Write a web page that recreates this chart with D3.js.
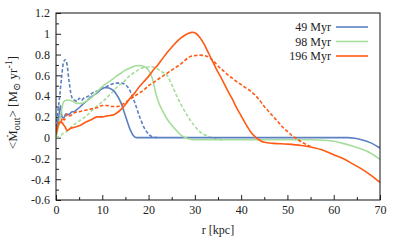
<!DOCTYPE html>
<html>
<head>
<meta charset="utf-8">
<script src="https://cdn.jsdelivr.net/npm/d3@7"></script>
<style>
  html, body { margin: 0; padding: 0; background: #fff; }
  svg { display: block; }
  svg text { font-family: "Liberation Serif", "Times New Roman", "DejaVu Serif", serif !important; fill: #222; }
</style>
</head>
<body>
<svg id="chart" width="399" height="240"></svg>
<script>
// radius [kpc] and mean outflow rate for each snapshot; solid = one run, dashed = the other
const r49s = [0, 0.3, 0.65, 1, 1.3, 1.7, 2.1, 2.4, 3, 3.5, 3.9, 4.5, 5.3, 6, 6.8, 7.5, 8.2, 8.9, 9.6, 10.3, 11.1, 11.8, 12.5, 13, 14, 15, 16, 16.7, 17.3, 20, 30, 40, 50, 60, 63, 64.5, 66, 68, 70];
const v49s = [0.05, 0.12, 0.22, 0.31, 0.2, 0.19, 0.23, 0.22, 0.23, 0.25, 0.25, 0.27, 0.3, 0.33, 0.36, 0.39, 0.41, 0.43, 0.46, 0.48, 0.48, 0.47, 0.45, 0.42, 0.34, 0.21, 0.08, 0.02, 0, 0, 0, 0, 0, 0, 0, -0.005, -0.02, -0.05, -0.1];

const r49d = [0, 0.4, 0.8, 1.2, 1.6, 2, 2.4, 2.8, 3.2, 3.5, 4, 4.6, 5, 5.5, 6, 7, 8.2, 9, 10.4, 11.8, 13, 14, 15, 16, 17, 18, 19, 20, 21, 22];
const v49d = [0.1, 0.25, 0.4, 0.58, 0.72, 0.75, 0.7, 0.55, 0.43, 0.38, 0.36, 0.35, 0.38, 0.36, 0.38, 0.4, 0.44, 0.45, 0.48, 0.51, 0.525, 0.525, 0.51, 0.45, 0.34, 0.21, 0.1, 0.035, 0.005, 0];

const r98s = [0, 0.5, 1, 1.7, 2.3, 3, 3.6, 4.6, 5.5, 6.5, 7.5, 8.2, 9.5, 10.5, 11.8, 13, 14, 15, 16, 17, 18, 19, 20, 20.5, 21, 21.5, 22, 23, 24, 25, 26, 27, 28, 29, 30, 40, 50, 55, 58, 60, 62, 64, 66, 68, 70];
const v98s = [0, 0.1, 0.22, 0.35, 0.36, 0.36, 0.35, 0.33, 0.33, 0.35, 0.38, 0.41, 0.47, 0.51, 0.55, 0.59, 0.62, 0.65, 0.67, 0.69, 0.695, 0.685, 0.65, 0.61, 0.54, 0.44, 0.36, 0.26, 0.18, 0.12, 0.07, 0.025, 0, -0.015, -0.02, -0.02, -0.02, -0.02, -0.025, -0.035, -0.055, -0.08, -0.11, -0.15, -0.21];

const r98d = [0, 0.5, 1, 1.5, 2, 2.4, 3, 4, 5, 6, 6.8, 8, 9, 10.4, 12, 13, 14.7, 16, 17, 18, 19, 20, 21, 22, 23, 24, 25, 26, 27, 28, 29, 30, 31, 32, 33, 34, 35, 36];
const v98d = [0, 0.01, 0.02, 0.04, 0.05, 0.06, 0.09, 0.13, 0.16, 0.19, 0.22, 0.27, 0.31, 0.36, 0.43, 0.48, 0.54, 0.6, 0.63, 0.66, 0.675, 0.68, 0.68, 0.66, 0.63, 0.6, 0.51, 0.41, 0.32, 0.24, 0.17, 0.11, 0.06, 0.03, 0.01, -0.005, -0.015, -0.02];

const r196s = [0, 0.3, 0.6, 1, 1.4, 1.7, 2, 2.4, 2.8, 3.2, 4, 5.3, 6.5, 7.5, 8.9, 10, 11.1, 12.5, 13.2, 14, 15, 16, 17, 18, 19, 20, 21, 22, 23, 24, 25, 26, 27, 28, 29, 29.5, 30, 31, 32, 33, 34, 35, 36, 37, 38, 39, 40, 41, 42, 43, 44, 45, 47, 50, 53, 55, 58, 60, 62, 64, 66, 68, 70];
const v196s = [0.03, 0.09, 0.13, 0.15, 0.14, 0.12, 0.1, 0.07, 0.08, 0.09, 0.1, 0.12, 0.15, 0.17, 0.2, 0.2, 0.21, 0.22, 0.24, 0.27, 0.32, 0.38, 0.43, 0.49, 0.54, 0.59, 0.65, 0.7, 0.76, 0.82, 0.87, 0.92, 0.96, 0.99, 1.01, 1.015, 1.01, 0.97, 0.9, 0.81, 0.72, 0.63, 0.55, 0.46, 0.38, 0.29, 0.21, 0.13, 0.06, 0.01, -0.025, -0.045, -0.055, -0.062, -0.075, -0.09, -0.125, -0.165, -0.2, -0.25, -0.3, -0.36, -0.43];

const r196d = [0, 0.3, 0.7, 1, 1.4, 1.8, 2.4, 3, 4, 5, 6, 7, 8, 9, 10, 11, 12, 13, 14, 15, 16, 17, 18, 19, 20, 21, 22, 23, 24, 25, 26, 27, 28, 29, 30, 31, 32, 33, 34, 35, 36, 37, 38, 39, 40, 41, 42, 43, 44, 45, 46, 47, 48, 49, 50, 51, 52, 53, 54, 55];
const v196d = [0.08, 0.12, 0.15, 0.14, 0.19, 0.17, 0.23, 0.21, 0.24, 0.25, 0.26, 0.27, 0.28, 0.29, 0.31, 0.31, 0.3, 0.3, 0.31, 0.34, 0.37, 0.4, 0.43, 0.46, 0.5, 0.53, 0.56, 0.59, 0.62, 0.65, 0.68, 0.71, 0.75, 0.78, 0.79, 0.795, 0.79, 0.775, 0.74, 0.69, 0.65, 0.61, 0.575, 0.54, 0.51, 0.48, 0.45, 0.41, 0.36, 0.3, 0.25, 0.2, 0.15, 0.1, 0.06, 0.02, -0.01, -0.04, -0.065, -0.085];

const seriesNames = ["49 Myr", "98 Myr", "196 Myr"];
const seriesColors = ["#5b80c2", "#a5dd9b", "#ff5a14"];
const xTicks = [0, 10, 20, 30, 40, 50, 60, 70];
const yTicks = [-0.6, -0.4, -0.2, 0, 0.2, 0.4, 0.6, 0.8, 1, 1.2];

const W = 399, H = 240;
const m = {top: 13, right: 19, bottom: 40, left: 56};
const iw = W - m.left - m.right, ih = H - m.top - m.bottom;
const FS = 12;

const svg = d3.select("#chart");
const g = svg.append("g").attr("transform", `translate(${m.left},${m.top})`);

const x = d3.scaleLinear().domain([0, 70]).range([0, iw]);
const y = d3.scaleLinear().domain([-0.6, 1.2]).range([ih, 0]);

g.append("clipPath").attr("id", "clip")
  .append("rect").attr("width", iw).attr("height", ih);

// minor ticks
g.append("g").attr("transform", `translate(0,${ih})`)
  .call(d3.axisBottom(x).tickValues(d3.range(5, 70, 10)).tickSize(-3).tickFormat(""))
  .call(a => a.select(".domain").remove());
g.append("g")
  .call(d3.axisLeft(y).tickValues(d3.range(-5, 12, 2).map(d => d / 10)).tickSize(-3).tickFormat(""))
  .call(a => a.select(".domain").remove());

// major ticks
const xAxis = g.append("g").attr("transform", `translate(0,${ih})`)
  .call(d3.axisBottom(x).tickValues(xTicks).tickSize(-5).tickPadding(5).tickFormat(d3.format("d")));
const yAxis = g.append("g")
  .call(d3.axisLeft(y).tickValues(yTicks).tickSize(-5).tickPadding(6).tickFormat(d => String(+d.toFixed(1))));
[xAxis, yAxis].forEach(a => {
  a.attr("font-family", null).attr("font-size", FS);
  a.select(".domain").remove();
  a.selectAll("text").attr("fill", "#222");
});
g.selectAll(".tick line").attr("stroke", "#222");

const line = d3.line()
  .x(d => x(d[0]))
  .y(d => y(d[1]))
  .curve(d3.curveMonotoneX);

const runs = [
  {r: r49d, v: v49d, c: 0, dash: true},
  {r: r98d, v: v98d, c: 1, dash: true},
  {r: r49s, v: v49s, c: 0, dash: false},
  {r: r98s, v: v98s, c: 1, dash: false},
  {r: r196d, v: v196d, c: 2, dash: true},
  {r: r196s, v: v196s, c: 2, dash: false}
];

const lines = g.append("g").attr("clip-path", "url(#clip)");
runs.forEach(s => {
  lines.append("path")
    .datum(s.r.map((d, i) => [d, s.v[i]]))
    .attr("fill", "none")
    .attr("stroke", seriesColors[s.c])
    .attr("stroke-width", 1.6)
    .attr("stroke-dasharray", s.dash ? "3.5,2" : null)
    .attr("d", line);
});

// frame
g.append("rect").attr("width", iw).attr("height", ih)
  .attr("fill", "none").attr("stroke", "#111").attr("stroke-width", 1);

// legend
const legY = [27, 41.5, 56];
const leg = svg.append("g").attr("font-size", FS);
seriesNames.forEach((name, i) => {
  leg.append("text").attr("x", 331).attr("y", legY[i]).attr("dy", "0.35em")
    .attr("text-anchor", "end").text(name);
  leg.append("line").attr("x1", 336).attr("x2", 368)
    .attr("y1", legY[i]).attr("y2", legY[i])
    .attr("stroke", seriesColors[i]).attr("stroke-width", 1.6);
});

// axis titles
svg.append("text").attr("x", m.left + iw / 2).attr("y", 234)
  .attr("text-anchor", "middle").attr("font-size", FS).text("r [kpc]");

const yl = svg.append("text")
  .attr("transform", `translate(17,${m.top + ih / 2 - 4}) rotate(-90)`)
  .attr("text-anchor", "middle").attr("font-size", 13);
yl.append("tspan").text("<Ṁ");
yl.append("tspan").attr("font-size", 10).attr("dy", 3).text("out");
yl.append("tspan").attr("dy", -3).text(">  [M");
yl.append("tspan").attr("font-size", 10).attr("dy", 3).text("⊙");
yl.append("tspan").attr("dy", -3).text(" yr");
yl.append("tspan").attr("font-size", 10).attr("dy", -5).text("-1");
yl.append("tspan").attr("dy", 5).text("]");
</script>
</body>
</html>
